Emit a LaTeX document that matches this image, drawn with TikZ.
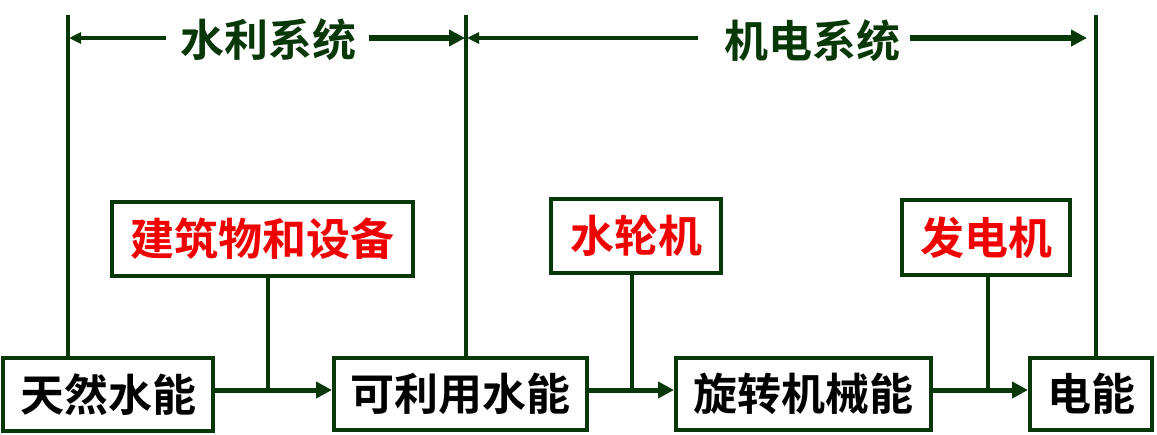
\documentclass[tikz,border=0pt]{standalone}
\usepackage{fontspec}
\setmainfont{Noto Sans CJK SC}[BoldFont=* Bold]
\usetikzlibrary{arrows.meta}
\definecolor{dkgreen}{RGB}{8,56,8}
\definecolor{txtred}{RGB}{240,0,0}
\tikzset{
  box/.style={draw=dkgreen, line width=4pt, inner sep=0pt, font=\fontsize{44}{44}\selectfont\bfseries, text=black, anchor=center},
  upbox/.style={box, text=txtred},
  flow/.style={draw=dkgreen, line width=5pt, -{Triangle[length=16pt,width=16pt]}},
  link/.style={draw=dkgreen, line width=3.5pt},
  thinarrow/.style={draw=dkgreen, line width=3.5pt, -{Triangle[length=12pt,width=11pt]}},
  thickarrow/.style={draw=dkgreen, line width=5.5pt, -{Triangle[length=16pt,width=16pt]}},
  syslabel/.style={inner sep=0pt, text=dkgreen, font=\fontsize{44}{44}\selectfont\bfseries},
}
\begin{document}
\begin{tikzpicture}[x=1pt,y=-1pt]
\useasboundingbox (0,0) rectangle (1157,434);
% bottom boxes
\node[box, minimum width=210pt, minimum height=73pt] (n1) at (108,394.5) {天然水能};
\node[box, minimum width=253pt, minimum height=72pt] (n2) at (460.5,394) {可利用水能};
\node[box, minimum width=255pt, minimum height=72pt] (n3) at (803.5,394) {旋转机械能};
\node[box, minimum width=122pt, minimum height=72pt] (n4) at (1091,394) {电能};
% upper boxes
\node[upbox, minimum width=301pt, minimum height=74pt] (u1) at (262.5,239) {建筑物和设备};
\node[upbox, minimum width=170pt, minimum height=74pt] (u2) at (636,236) {水轮机};
\node[upbox, minimum width=168pt, minimum height=75pt] (u3) at (986,237.5) {发电机};
% system labels
\node[syslabel] (l1) at (268,40) {水利系统};
\node[syslabel] (l2) at (812,41) {机电系统};
% vertical boundary lines
\coordinate (v1) at (68,15);
\coordinate (v2) at (466,15);
\coordinate (v3) at (1096,15);
\draw[link] (v1) -- (v1 |- n1.north);
\draw[link] (v2) -- (v2 |- n2.north);
\draw[link] (v3) -- (v3 |- n4.north);
% top arrows
\coordinate (a1) at (69,38);
\coordinate (a2) at (465,38);
\coordinate (a3) at (467,38);
\coordinate (a4) at (1087,38);
\draw[thinarrow] ([xshift=-14pt]l1.west |- a1) -- (a1);
\draw[thickarrow] ([xshift=13pt]l1.east |- a2) -- (a2);
\draw[thinarrow] ([xshift=-26pt]l2.west |- a3) -- (a3);
\draw[thickarrow] ([xshift=10pt]l2.east |- a4) -- (a4);
% main flow
\coordinate (m1) at (268,390);
\coordinate (m2) at (632,390);
\coordinate (m3) at (988,390);
\draw[flow] (n1.east |- m1) -- (n2.west |- m1);
\draw[flow] (n2.east |- m2) -- (n3.west |- m2);
\draw[flow] (n3.east |- m3) -- (n4.west |- m3);
% feeds
\draw[link] (m1 |- u1.south) -- (m1);
\draw[link] (m2 |- u2.south) -- (m2);
\draw[link] (m3 |- u3.south) -- (m3);
\end{tikzpicture}
\end{document}
